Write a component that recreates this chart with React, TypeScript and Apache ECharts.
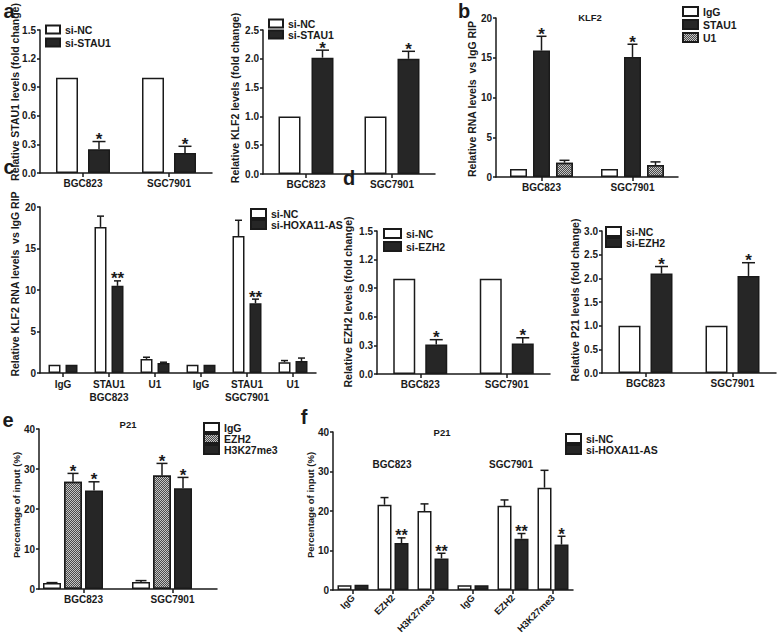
import React, { useEffect, useRef } from "react";
import * as echarts from "echarts";

const FONT = '"Liberation Sans", Arial, sans-serif';
const INK = "#1a1a1a";

// ---- data ----
const cellCats = ["BGC823", "SGC7901"];
const stau1NC = [1.0, 1.0];
const stau1Si = [0.25, 0.21];
const stau1SiErr = [0.33, 0.28];
const stau1Stars = ["*", "*"];

const klf2NC = [1.0, 1.0];
const klf2Si = [2.02, 2.0];
const klf2SiErr = [2.15, 2.13];
const klf2Stars = ["*", "*"];

const ripIgG = [1.0, 1.0];
const ripStau1 = [15.9, 15.1];
const ripStau1Err = [17.7, 16.7];
const ripU1 = [1.8, 1.5];
const ripU1Err = [2.1, 1.9];
const ripStars = ["*", "*"];

const cCats = ["IgG", "STAU1", "U1", "IgG", "STAU1", "U1"];
const cCellLines = ["", "BGC823", "", "", "SGC7901", ""];
const cNC = [1.0, 17.6, 1.7, 1.0, 16.5, 1.3];
const cNCErr = [null, 18.9, 1.9, null, 18.4, 1.5];
const cSi = [1.0, 10.5, 1.2, 1.0, 8.4, 1.45];
const cSiErr = [null, 11.1, 1.3, null, 8.9, 1.8];
const cStars = ["", "**", "", "", "**", ""];

const ezh2NC = [1.0, 1.0];
const ezh2Si = [0.31, 0.32];
const ezh2SiErr = [0.36, 0.38];
const ezh2Stars = ["*", "*"];

const p21NC = [1.0, 1.0];
const p21Si = [2.1, 2.05];
const p21SiErr = [2.25, 2.33];
const p21Stars = ["*", "*"];

const eIgG = [1.5, 1.75];
const eIgGErr = [1.6, 2.1];
const eEZH2 = [26.8, 28.4];
const eEZH2Err = [28.9, 31.4];
const eH3K = [24.6, 25.2];
const eH3KErr = [26.8, 27.9];
const eStars = ["*", "*"];

const fCats = ["IgG", "EZH2", "H3K27me3", "IgG", "EZH2", "H3K27me3"];
const fNC = [1.2, 21.6, 20.0, 1.2, 21.3, 25.9];
const fNCErr = [null, 23.4, 21.8, null, 22.8, 30.3];
const fSi = [1.3, 11.9, 8.0, 1.2, 13.0, 11.5];
const fSiErr = [null, 13.2, 9.3, null, 14.3, 13.6];
const fStars = ["", "**", "**", "", "**", "*"];

// ---- helpers ----
const hatchDecal = {
  symbol: "rect",
  symbolSize: 1,
  color: "#4a4a4a",
  dashArrayX: [[1, 1], [0, 1, 1, 0]],
  dashArrayY: [1, 0],
  rotation: 0,
};

function styleOf(kind: string) {
  if (kind === "white") return { color: "#ffffff", borderColor: INK, borderWidth: 1.5 };
  if (kind === "black") return { color: "#262626", borderColor: INK, borderWidth: 1.5 };
  if (kind === "hatch") return { color: "#c4c4c4", borderColor: INK, borderWidth: 1.5, decal: hatchDecal };
  return { color: "rgba(0,0,0,0)", borderWidth: 0 };
}

function barS(gi: number, name: string, data: number[], kind: string, barW: number, gap: number) {
  return {
    type: "bar",
    name,
    xAxisIndex: gi,
    yAxisIndex: gi,
    data,
    barWidth: barW,
    barGap: (gap / barW) * 100 + "%",
    itemStyle: styleOf(kind),
    silent: true,
    emphasis: { disabled: true },
    z: 2,
  };
}

function errS(
  gi: number,
  values: number[],
  errs: (number | null)[],
  stars: string[] | null,
  n: number,
  idx: number,
  barW: number,
  gap: number,
  starSize: number
) {
  const total = n * barW + (n - 1) * gap;
  const off = -total / 2 + barW / 2 + idx * (barW + gap);
  const cap = Math.round(barW * 0.6);
  return {
    type: "custom",
    xAxisIndex: gi,
    yAxisIndex: gi,
    silent: true,
    z: 5,
    data: values.map((v, i) => [i, v, errs[i] == null ? v : errs[i]]),
    renderItem: (params: any, api: any) => {
      const i = api.value(0);
      const base = api.coord([i, api.value(1)]);
      const top = api.coord([i, api.value(2)]);
      const x = base[0] + off;
      const children: any[] = [];
      if (errs[i] != null) {
        children.push({
          type: "line",
          shape: { x1: x, y1: base[1], x2: x, y2: top[1] },
          style: { stroke: INK, lineWidth: 1.5 },
        });
        children.push({
          type: "line",
          shape: { x1: x - cap / 2, y1: top[1], x2: x + cap / 2, y2: top[1] },
          style: { stroke: INK, lineWidth: 1.5 },
        });
      }
      const s = stars ? stars[i] : "";
      if (s) {
        children.push({
          type: "text",
          x: x,
          y: top[1] - 2,
          style: {
            text: s,
            fill: INK,
            fontSize: starSize,
            lineHeight: 10,
            fontWeight: "bold",
            fontFamily: FONT,
            textAlign: "center",
            textVerticalAlign: "middle",
            align: "center",
            verticalAlign: "middle",
          },
        });
      }
      return { type: "group", children };
    },
  };
}

const axLine = { show: true, lineStyle: { color: INK, width: 1.5 } };
const axTickStyle = { color: INK, width: 1.5 };

function xAx(gi: number, cats: string[], extra: any = {}) {
  return {
    type: "category",
    gridIndex: gi,
    data: cats,
    axisLine: axLine,
    axisTick: { show: true, alignWithLabel: true, length: 4, lineStyle: axTickStyle },
    axisLabel: {
      color: INK,
      fontSize: 10,
      fontWeight: "bold",
      fontFamily: FONT,
      margin: 5,
      interval: 0,
      ...(extra.axisLabel || {}),
    },
    splitLine: { show: false },
  };
}

function yAx(gi: number, max: number, interval: number, decimals: number) {
  return {
    type: "value",
    gridIndex: gi,
    min: 0,
    max,
    interval,
    axisLine: axLine,
    axisTick: { show: true, length: 3, lineStyle: axTickStyle },
    axisLabel: {
      color: INK,
      fontSize: 10,
      fontWeight: "bold",
      fontFamily: FONT,
      margin: 4,
      formatter: (v: number) => v.toFixed(decimals),
    },
    splitLine: { show: false },
  };
}

function legendAt(left: number, top: number, names: string[], w: number, h: number, gap: number) {
  return {
    left,
    top,
    orient: "vertical",
    padding: 0,
    itemGap: gap,
    itemWidth: w,
    itemHeight: h,
    icon: "rect",
    selectedMode: false,
    data: names,
    textStyle: { color: INK, fontSize: 10.5, fontWeight: "bold", fontFamily: FONT, padding: [0, 0, 0, 0] },
  };
}

function txt(text: string, x: number, y: number, size: number, rot = 0, weight = "bold") {
  return {
    type: "text",
    x,
    y,
    rotation: rot,
    silent: true,
    style: {
      text,
      fill: INK,
      fontSize: size,
      fontWeight: weight,
      fontFamily: FONT,
      textAlign: "center",
      textVerticalAlign: "middle",
      align: "center",
      verticalAlign: "middle",
    },
  };
}

export default function App() {
  const ref = useRef<HTMLDivElement>(null);
  useEffect(() => {
    if (!ref.current) return;
    const chart = echarts.init(ref.current, null, { renderer: "svg" });
    const R = Math.PI / 2;
    const option: any = {
      animation: false,
      backgroundColor: "#ffffff",
      grid: [
        { left: 40, top: 30, width: 172, height: 143 },
        { left: 263, top: 30, width: 172, height: 144 },
        { left: 496, top: 18, width: 182, height: 159 },
        { left: 40, top: 207, width: 276, height: 166 },
        { left: 377, top: 231, width: 173, height: 143 },
        { left: 602, top: 231, width: 174, height: 142 },
        { left: 39, top: 429, width: 178, height: 160 },
        { left: 333, top: 432, width: 240, height: 158 },
      ],
      xAxis: [
        xAx(0, cellCats),
        xAx(1, cellCats),
        xAx(2, cellCats),
        xAx(3, cCats, {
          axisLabel: {
            lineHeight: 13,
            formatter: (v: string, i: number) => (cCellLines[i] ? v + "\n" + cCellLines[i] : v),
          },
        }),
        xAx(4, cellCats),
        xAx(5, cellCats),
        xAx(6, cellCats),
        xAx(7, fCats, { axisLabel: { rotate: 45, fontSize: 9.5, margin: 6 } }),
      ],
      yAxis: [
        yAx(0, 1.5, 0.3, 1),
        yAx(1, 2.5, 0.5, 1),
        yAx(2, 20, 5, 0),
        yAx(3, 20, 5, 0),
        yAx(4, 1.5, 0.3, 1),
        yAx(5, 3.0, 0.5, 1),
        yAx(6, 40, 10, 0),
        yAx(7, 40, 10, 0),
      ],
      legend: [
        legendAt(45, 24, ["si-NC", "si-STAU1"], 14, 8, 2),
        legendAt(268, 18, ["si-NC", "si-STAU1"], 14, 8, 0),
        legendAt(682, 6, ["IgG", "STAU1", "U1"], 15, 9, 2),
        legendAt(250, 208, ["si-NC", "si-HOXA11-AS"], 15, 9, 0),
        legendAt(383, 228, ["si-NC", "si-EZH2"], 17, 9, 2),
        legendAt(605, 226, ["si-NC", "si-EZH2"], 15, 9, 0),
        legendAt(203, 422, ["IgG", "EZH2", "H3K27me3"], 15, 9, 0),
        legendAt(565, 433, ["si-NC", "si-HOXA11-AS"], 15, 9, 0),
      ],
      series: [
        // a-left
        barS(0, "si-NC", stau1NC, "white", 22, 10),
        barS(0, "si-STAU1", stau1Si, "black", 22, 10),
        errS(0, stau1Si, stau1SiErr, stau1Stars, 2, 1, 22, 10, 17),
        // a-right
        barS(1, "si-NC", klf2NC, "white", 22, 11),
        barS(1, "si-STAU1", klf2Si, "black", 22, 11),
        errS(1, klf2Si, klf2SiErr, klf2Stars, 2, 1, 22, 11, 17),
        // b
        barS(2, "IgG", ripIgG, "white", 17, 6),
        barS(2, "STAU1", ripStau1, "black", 17, 6),
        barS(2, "U1", ripU1, "hatch", 17, 6),
        errS(2, ripStau1, ripStau1Err, ripStars, 3, 1, 17, 6, 17),
        errS(2, ripU1, ripU1Err, null, 3, 2, 17, 6, 17),
        // c
        barS(3, "si-NC", cNC, "white", 12, 5),
        barS(3, "si-HOXA11-AS", cSi, "black", 12, 5),
        errS(3, cNC, cNCErr, null, 2, 0, 12, 5, 17),
        errS(3, cSi, cSiErr, cStars, 2, 1, 12, 5, 17),
        // d-left
        barS(4, "si-NC", ezh2NC, "white", 22, 10),
        barS(4, "si-EZH2", ezh2Si, "black", 22, 10),
        errS(4, ezh2Si, ezh2SiErr, ezh2Stars, 2, 1, 22, 10, 17),
        // d-right
        barS(5, "si-NC", p21NC, "white", 22, 10),
        barS(5, "si-EZH2", p21Si, "black", 22, 10),
        errS(5, p21Si, p21SiErr, p21Stars, 2, 1, 22, 10, 17),
        // e
        barS(6, "IgG", eIgG, "white", 18, 3),
        barS(6, "EZH2", eEZH2, "hatch", 18, 3),
        barS(6, "H3K27me3", eH3K, "black", 18, 3),
        barS(6, "pad", [0, 0], "none", 18, 3),
        errS(6, eIgG, eIgGErr, null, 4, 0, 18, 3, 17),
        errS(6, eEZH2, eEZH2Err, eStars, 4, 1, 18, 3, 17),
        errS(6, eH3K, eH3KErr, eStars, 4, 2, 18, 3, 17),
        // f
        barS(7, "si-NC", fNC, "white", 14, 3),
        barS(7, "si-HOXA11-AS", fSi, "black", 14, 3),
        errS(7, fNC, fNCErr, null, 2, 0, 14, 3, 16),
        errS(7, fSi, fSiErr, fStars, 2, 1, 14, 3, 16),
      ],
      graphic: [
        txt("a", 9, 11, 20),
        txt("b", 464, 11, 20),
        txt("c", 9, 167, 20),
        txt("d", 349, 178, 20),
        txt("e", 8, 420, 20),
        txt("f", 304, 417, 20),
        txt("Relative STAU1 levels (fold change)", 15, 92, 10.5, R),
        txt("Relative KLF2 levels (fold change)", 235, 98, 10.5, R),
        txt("Relative RNA levels  vs IgG RIP", 472, 99, 10.5, R),
        txt("Relative KLF2 RNA levels  vs IgG RIP", 15, 284, 10.5, R),
        txt("Relative EZH2 levels (fold change)", 348, 302, 10.5, R),
        txt("Relative P21 levels (fold change)", 575, 300, 10.5, R),
        txt("Percentage of input (%)", 16, 505, 9.5, R),
        txt("Percentage of input (%)", 310, 505, 9.5, R),
        txt("KLF2", 590, 17, 9.5),
        txt("P21", 128, 424, 9.5),
        txt("P21", 442, 432, 9.5),
        txt("BGC823", 392, 464, 10),
        txt("SGC7901", 511, 464, 10),
      ],
    };
    chart.setOption(option);
    return () => chart.dispose();
  }, []);
  return (
    <div
      ref={ref}
      style={{ position: "fixed", left: 0, top: 0, width: 778, height: 637, background: "#fff" }}
    />
  );
}
